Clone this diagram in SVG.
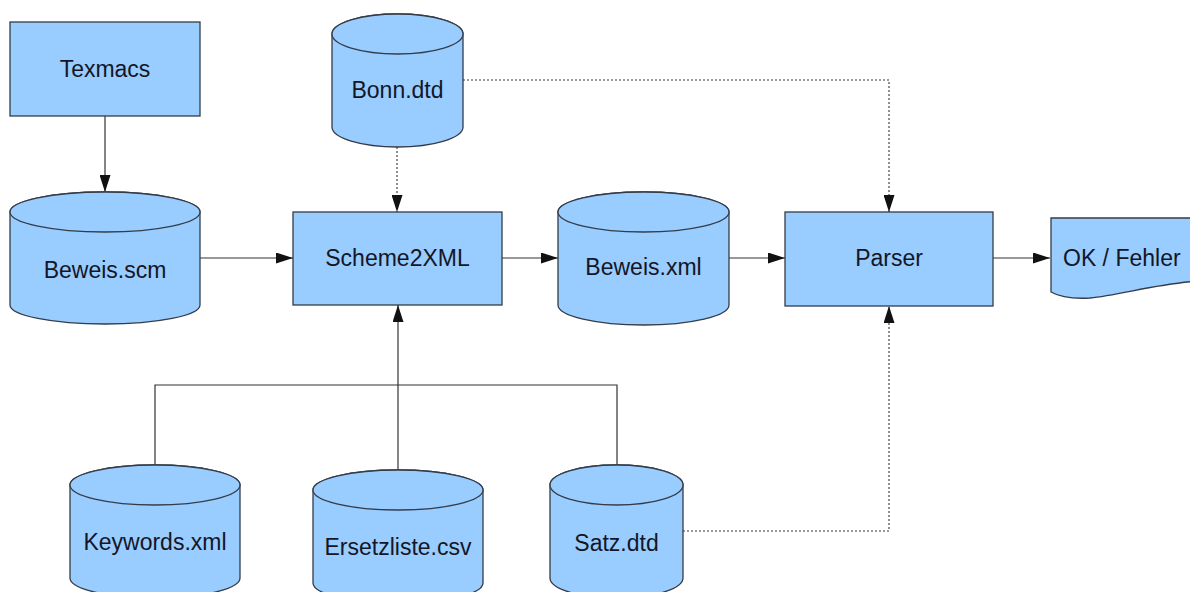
<svg xmlns="http://www.w3.org/2000/svg" width="1190" height="592" viewBox="0 0 1190 592">
  <defs>
    <marker id="arrow" viewBox="0 0 17 11" refX="17" refY="5.5" markerWidth="17" markerHeight="11" markerUnits="userSpaceOnUse" orient="auto">
      <path d="M0,0 L17,5.5 L0,11 Z" fill="#111"/>
    </marker>
  </defs>
  <style>
    .box { fill: #99ccff; stroke: #343c48; stroke-width: 1.3; }
    .label { font-family: "Liberation Sans", Arial, sans-serif; font-size: 23px; fill: #141626; text-anchor: middle; }
    .flow { fill: none; stroke: #333; stroke-width: 1.2; }
    .dotted { fill: none; stroke: #333; stroke-width: 1.1; stroke-dasharray: 2 2; }
  </style>
  <rect width="1190" height="592" fill="#ffffff"/>

  <!-- connectors -->
  <g id="connectors">
    <line class="flow" x1="105" y1="116" x2="105" y2="192" marker-end="url(#arrow)"/>
    <line class="flow" x1="200" y1="258" x2="293" y2="258" marker-end="url(#arrow)"/>
    <line class="flow" x1="502" y1="258" x2="558" y2="258" marker-end="url(#arrow)"/>
    <line class="flow" x1="729" y1="258" x2="785" y2="258" marker-end="url(#arrow)"/>
    <line class="flow" x1="993" y1="258" x2="1050" y2="258" marker-end="url(#arrow)"/>
    <polyline class="flow" points="155,465 155,385 617,385 617,465"/>
    <line class="flow" x1="398" y1="470" x2="398" y2="305" marker-end="url(#arrow)"/>
    <line class="dotted" x1="397" y1="147" x2="397" y2="212" marker-end="url(#arrow)"/>
    <polyline class="dotted" points="463,80 889,80 889,212" marker-end="url(#arrow)"/>
    <polyline class="dotted" points="683,531 889,531 889,306" marker-end="url(#arrow)"/>
  </g>

  <!-- process boxes -->
  <g id="texmacs">
    <rect class="box" x="10" y="22" width="190" height="94"/>
    <text class="label" x="105" y="77">Texmacs</text>
  </g>
  <g id="scheme2xml">
    <rect class="box" x="293" y="212" width="209" height="93"/>
    <text class="label" x="397.5" y="266">Scheme2XML</text>
  </g>
  <g id="parser">
    <rect class="box" x="785" y="212" width="208" height="94"/>
    <text class="label" x="889" y="266">Parser</text>
  </g>

  <!-- data stores (cylinders) -->
  <g id="beweis-scm">
    <path class="box" d="M10,212 V305 A95,19 0 0 0 200,305 V212 A95,20 0 0 0 10,212 Z"/>
    <ellipse class="box" cx="105" cy="212" rx="95" ry="20"/>
    <text class="label" x="105" y="278">Beweis.scm</text>
  </g>
  <g id="bonn-dtd">
    <path class="box" d="M332,34 V127 A65.5,20 0 0 0 463,127 V34 A65.5,20 0 0 0 332,34 Z"/>
    <ellipse class="box" cx="397.5" cy="34" rx="65.5" ry="20"/>
    <text class="label" x="397.5" y="98">Bonn.dtd</text>
  </g>
  <g id="beweis-xml">
    <path class="box" d="M558,212 V305 A85.5,20 0 0 0 729,305 V212 A85.5,20 0 0 0 558,212 Z"/>
    <ellipse class="box" cx="643.5" cy="212" rx="85.5" ry="20"/>
    <text class="label" x="643.5" y="275">Beweis.xml</text>
  </g>
  <g id="keywords-xml">
    <path class="box" d="M70,485 V578 A85,20 0 0 0 240,578 V485 A85,20 0 0 0 70,485 Z"/>
    <ellipse class="box" cx="155" cy="485" rx="85" ry="20"/>
    <text class="label" x="155" y="550">Keywords.xml</text>
  </g>
  <g id="ersetzliste-csv">
    <path class="box" d="M313,490 V583 A85,20 0 0 0 483,583 V490 A85,20 0 0 0 313,490 Z"/>
    <ellipse class="box" cx="398" cy="490" rx="85" ry="20"/>
    <text class="label" x="398" y="555">Ersetzliste.csv</text>
  </g>
  <g id="satz-dtd">
    <path class="box" d="M550,485 V578 A66.5,20 0 0 0 683,578 V485 A66.5,20 0 0 0 550,485 Z"/>
    <ellipse class="box" cx="616.5" cy="485" rx="66.5" ry="20"/>
    <text class="label" x="616.5" y="551">Satz.dtd</text>
  </g>

  <!-- output document -->
  <g id="ok-fehler">
    <path class="box" d="M1051,218 H1200 V281 C1160,283 1120,295 1090,298 C1072,299 1058,296 1051,292 Z"/>
    <text class="label" x="1063" y="266" style="text-anchor:start">OK / Fehler</text>
  </g>
</svg>
